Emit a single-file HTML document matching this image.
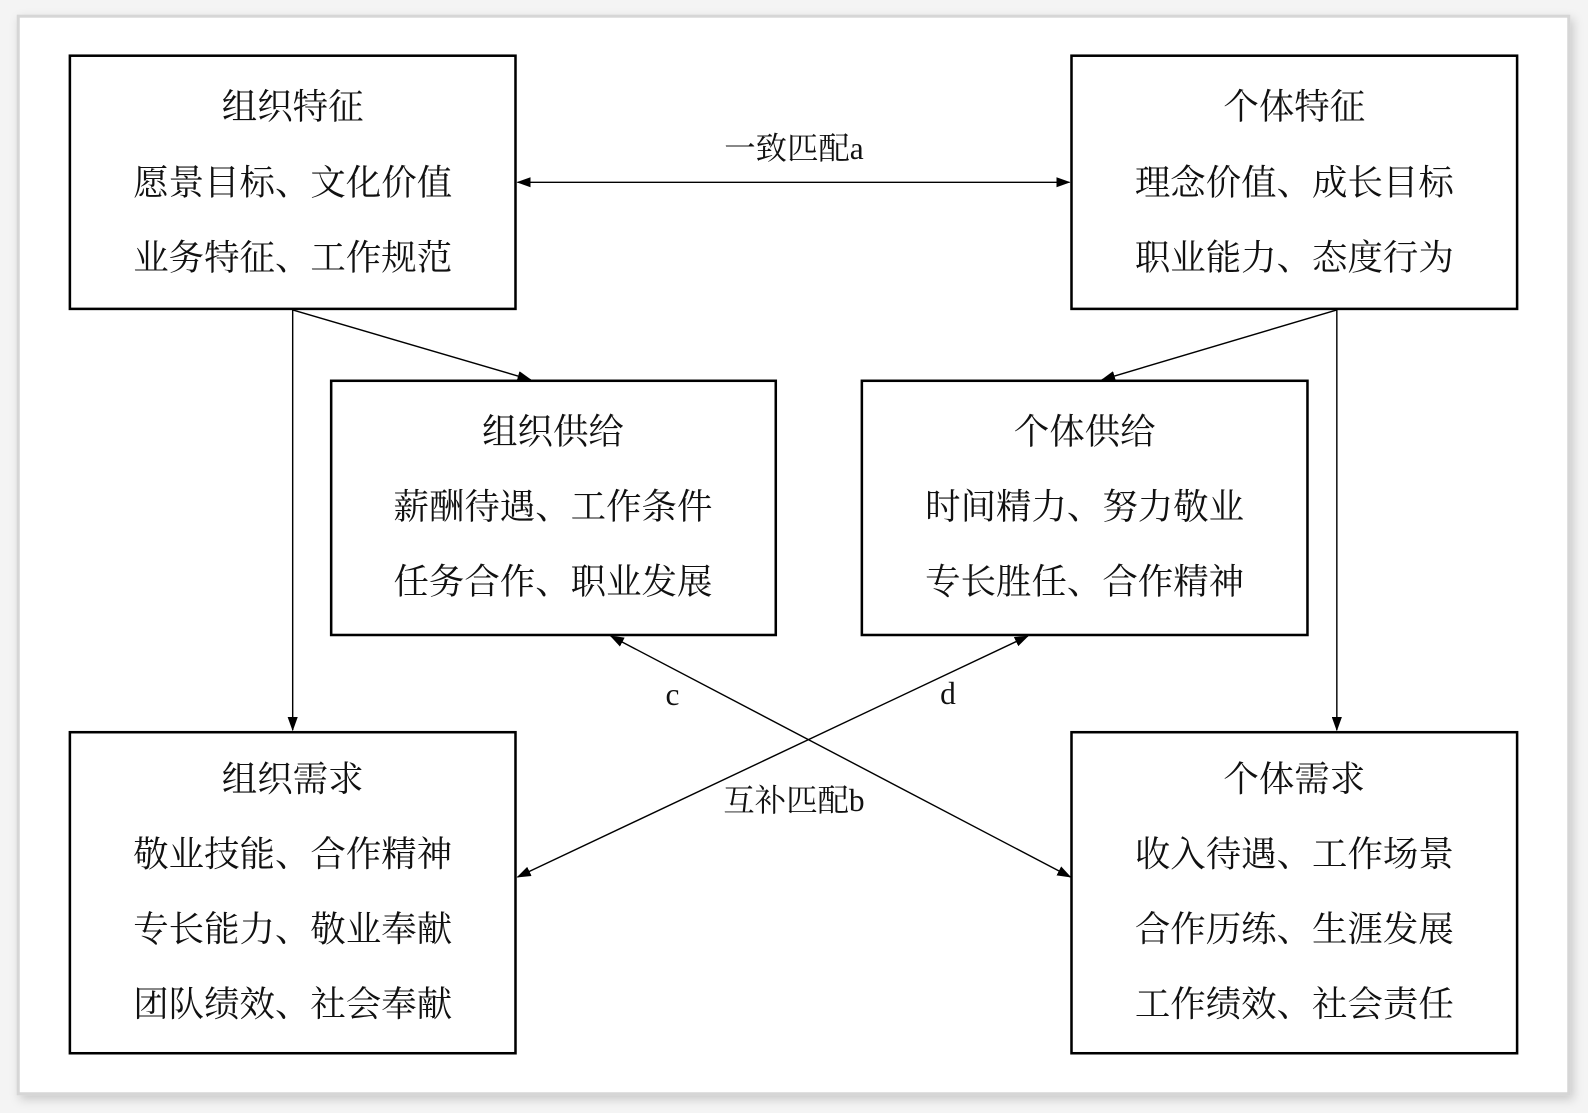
<!DOCTYPE html>
<html><head><meta charset="utf-8"><style>
html,body{margin:0;padding:0;background:#f4f4f4;}
svg{display:block}
text{font-family:"Liberation Serif","Noto Serif CJK SC",serif;fill:#111;}
</style></head><body>
<svg width="1588" height="1113" viewBox="0 0 1568 1099" preserveAspectRatio="none" xmlns="http://www.w3.org/2000/svg">
<defs>
<marker id="ar" markerWidth="14" markerHeight="10" refX="13" refY="5" orient="auto-start-reverse" markerUnits="userSpaceOnUse">
<path d="M0,0 L14,5 L0,10 Z" fill="#000"/></marker>
<filter id="sh" x="-5%" y="-5%" width="110%" height="110%"><feDropShadow dx="3" dy="4" stdDeviation="5" flood-color="#000" flood-opacity="0.18"/></filter>
</defs>
<rect x="18" y="16" width="1531" height="1064" fill="#fff" stroke="#d6d6d6" stroke-width="3" filter="url(#sh)"/>
<g fill="none" stroke="#000" stroke-width="2.5">
<rect x="69" y="55" width="440" height="250"/>
<rect x="1058" y="55" width="440" height="250"/>
<rect x="327" y="376" width="439" height="251"/>
<rect x="851" y="376" width="440" height="251"/>
<rect x="69" y="723" width="440" height="317"/>
<rect x="1058" y="723" width="440" height="317"/>
</g>
<g stroke="#000" stroke-width="1.4" fill="none">
<line x1="511" y1="180" x2="1056" y2="180" marker-start="url(#ar)" marker-end="url(#ar)"/>
<line x1="289" y1="306" x2="289" y2="721" marker-end="url(#ar)"/>
<line x1="289" y1="306" x2="524" y2="375" marker-end="url(#ar)"/>
<line x1="1320" y1="306" x2="1320" y2="721" marker-end="url(#ar)"/>
<line x1="1320" y1="306" x2="1088" y2="375" marker-end="url(#ar)"/>
<line x1="603" y1="628" x2="1057" y2="866" marker-start="url(#ar)" marker-end="url(#ar)"/>
<line x1="1015" y1="628" x2="511" y2="866" marker-start="url(#ar)" marker-end="url(#ar)"/>
</g>
<g font-size="35" text-anchor="middle">
<text x="289" y="117">组织特征</text>
<text x="289" y="192">愿景目标、文化价值</text>
<text x="289" y="266">业务特征、工作规范</text>
<text x="1278" y="117">个体特征</text>
<text x="1278" y="192">理念价值、成长目标</text>
<text x="1278" y="266">职业能力、态度行为</text>
<text x="546" y="438">组织供给</text>
<text x="546" y="512">薪酬待遇、工作条件</text>
<text x="546" y="586">任务合作、职业发展</text>
<text x="1071" y="438">个体供给</text>
<text x="1071" y="512">时间精力、努力敬业</text>
<text x="1071" y="586">专长胜任、合作精神</text>
<text x="289" y="781">组织需求</text>
<text x="289" y="855">敬业技能、合作精神</text>
<text x="289" y="929">专长能力、敬业奉献</text>
<text x="289" y="1003">团队绩效、社会奉献</text>
<text x="1278" y="781">个体需求</text>
<text x="1278" y="855">收入待遇、工作场景</text>
<text x="1278" y="929">合作历练、生涯发展</text>
<text x="1278" y="1003">工作绩效、社会责任</text>
</g>
<g font-size="31" text-anchor="middle">
<text x="784" y="157">一致匹配a</text>
<text x="664" y="696">c</text>
<text x="936" y="695">d</text>
<text x="784" y="801">互补匹配b</text>
</g>
</svg>
</body></html>
